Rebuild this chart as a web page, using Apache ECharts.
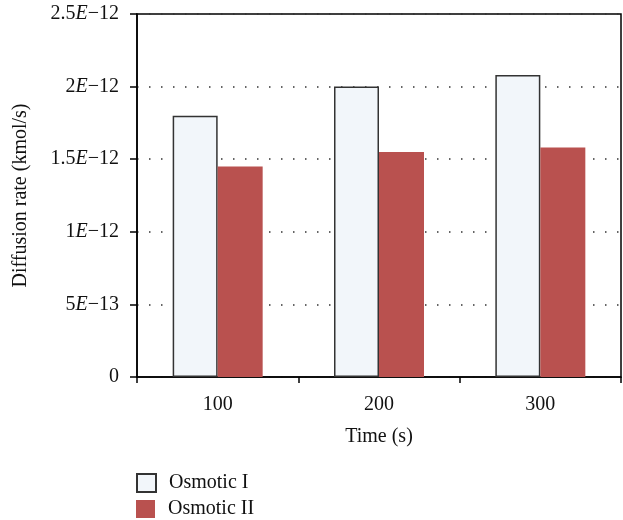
<!DOCTYPE html>
<html>
<head>
<meta charset="utf-8">
<script src="https://cdn.jsdelivr.net/npm/echarts@6/dist/echarts.min.js"></script>
<style>html,body{margin:0;padding:0;background:#fff}#c{width:623px;height:520px}</style>
</head>
<body>
<div id="c"></div>
<script>
var categories = ['100', '200', '300'];
var osmotic1 = [1.8e-12, 2.0e-12, 2.08e-12];
var osmotic2 = [1.45e-12, 1.55e-12, 1.58e-12];
var yTicks = [0, 5e-13, 1e-12, 1.5e-12, 2e-12, 2.5e-12];
var yTickLabels = [['0', ''], ['5', '13'], ['1', '12'], ['1.5', '12'], ['2', '12'], ['2.5', '12']];

var FONT = 'Liberation Serif';
var FS = 20;
var chart = echarts.init(document.getElementById('c'), null, {renderer: 'canvas'});
var legendText = {fontFamily: FONT, fontSize: FS, color: '#111', padding: [0, 0, 0, 8]};
chart.setOption({
  animation: false,
  backgroundColor: '#fff',
  textStyle: {fontFamily: FONT},
  grid: {left: 137, right: 2, top: 14, bottom: 143, show: true, borderColor: '#000', borderWidth: 1.5, backgroundColor: 'transparent'},
  legend: [
    {left: 136, top: 473, itemWidth: 19, itemHeight: 18, icon: 'rect', padding: 0,
     textStyle: legendText, data: ['Osmotic I']},
    {left: 136, top: 499, itemWidth: 19, itemHeight: 18, icon: 'rect', padding: 0,
     textStyle: legendText, data: ['Osmotic II']}
  ],
  xAxis: {
    type: 'category', data: categories,
    name: 'Time (s)', nameLocation: 'middle', nameGap: 50,
    nameTextStyle: {fontFamily: FONT, fontSize: FS, color: '#111'},
    axisLine: {lineStyle: {color: '#000', width: 1.5}},
    axisTick: {show: true, length: 6, lineStyle: {color: '#000', width: 1.5}},
    axisLabel: {fontFamily: FONT, fontSize: FS, color: '#111', margin: 18},
    splitLine: {show: false}
  },
  yAxis: {
    type: 'value', min: 0, max: 2.5e-12, interval: 5e-13,
    name: 'Diffusion rate (kmol/s)', nameLocation: 'middle', nameGap: 106,
    nameTextStyle: {fontFamily: FONT, fontSize: FS, color: '#111'},
    axisLine: {show: true, lineStyle: {color: '#000', width: 1.5}},
    axisTick: {show: true, length: 7, lineStyle: {color: '#000', width: 1.5}},
    axisLabel: {
      margin: 18, color: '#111',
      formatter: function (v) {
        var idx = -1;
        for (var i = 0; i < yTicks.length; i++) { if (Math.abs(yTicks[i] - v) < 1e-16) idx = i; }
        if (idx < 0) return '';
        var p = yTickLabels[idx];
        if (p[1] === '') return '{n|' + p[0] + '}';
        return '{n|' + p[0] + '}{e|E}{n|\u2212' + p[1] + '}';
      },
      rich: {
        n: {fontFamily: FONT, fontSize: FS, color: '#111'},
        e: {fontFamily: FONT, fontSize: FS, fontStyle: 'italic', color: '#111'}
      }
    },
    splitLine: {show: true, lineStyle: {color: '#333', width: 1.5, type: [1.5, 10.5]}}
  },
  series: [
    {
      name: 'Osmotic I', type: 'bar', data: osmotic1, barWidth: 45, barGap: '0%',
      itemStyle: {color: '#f2f6fa', borderColor: '#333', borderWidth: 1.5}
    },
    {
      name: 'Osmotic II', type: 'bar', data: osmotic2, barWidth: 45,
      itemStyle: {color: '#b9514f'}
    }
  ]
});
</script>
</body>
</html>
